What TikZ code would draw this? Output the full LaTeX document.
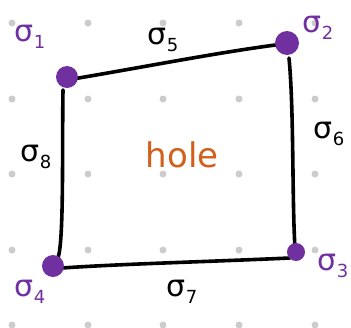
\documentclass[tikz,border=0pt]{standalone}
\usepackage{fontspec}
\setmainfont{DejaVu Sans}
\definecolor{vpurple}{HTML}{7030A0}
\definecolor{holeorange}{HTML}{D2601A}
\definecolor{dotgray}{HTML}{CCCCCC}
\newcommand{\sig}[1]{σ\raisebox{-7pt}{\fontsize{18}{18}\selectfont #1}}
\begin{document}
\begin{tikzpicture}[x=1pt,y=-1pt,
  griddot/.style={circle,fill=dotgray,inner sep=0pt,minimum size=7pt},
  vert/.style={circle,fill=vpurple,inner sep=0pt,minimum size=#1},
  vert/.default=22pt,
  edge/.style={line width=3.6pt,black,line cap=round,line join=round},
  vlabel/.style={text=vpurple,font=\fontsize{30}{30}\selectfont,inner sep=0pt},
  elabel/.style={text=black,font=\fontsize{30}{30}\selectfont,inner sep=0pt}]
\useasboundingbox (0,0) rectangle (351,327);
\foreach \i/\x in {0/12,1/88,2/163,3/239,4/315}{
  \foreach \j/\y in {0/23,1/99,2/174,3/250,4/325}{
    \node[griddot] (g\i\j) at (\x,\y) {};
  }
}
\draw[edge] (67,80) .. controls (150,66) and (220,52) .. (283,44);
\draw[edge] (289,58) .. controls (294,110) and (292,200) .. (295,248);
\draw[edge] (290,258) .. controls (200,262) and (120,264) .. (62,268);
\draw[edge] (58,258) .. controls (64,240) and (62,150) .. (63,90);
\node[vert=22pt] (s1) at (67,77) {};
\node[vert=24pt] (s2) at (287,43) {};
\node[vert=18pt] (s3) at (296,252) {};
\node[vert=22pt] (s4) at (53,266) {};
\node[vlabel] (l1) at (30,37) {\sig{1}};
\node[vlabel] (l2) at (318,28) {\sig{2}};
\node[vlabel] (l3) at (333,266) {\sig{3}};
\node[vlabel] (l4) at (30,292) {\sig{4}};
\node[elabel] (l5) at (163,40) {\sig{5}};
\node[elabel] (l6) at (329,134) {\sig{6}};
\node[elabel] (l7) at (182,292) {\sig{7}};
\node[elabel] (l8) at (36,157) {\sig{8}};
\node[text=holeorange,font=\fontsize{34}{34}\selectfont,inner sep=0pt] (hole) at (182,155) {hole};
\end{tikzpicture}
\end{document}
